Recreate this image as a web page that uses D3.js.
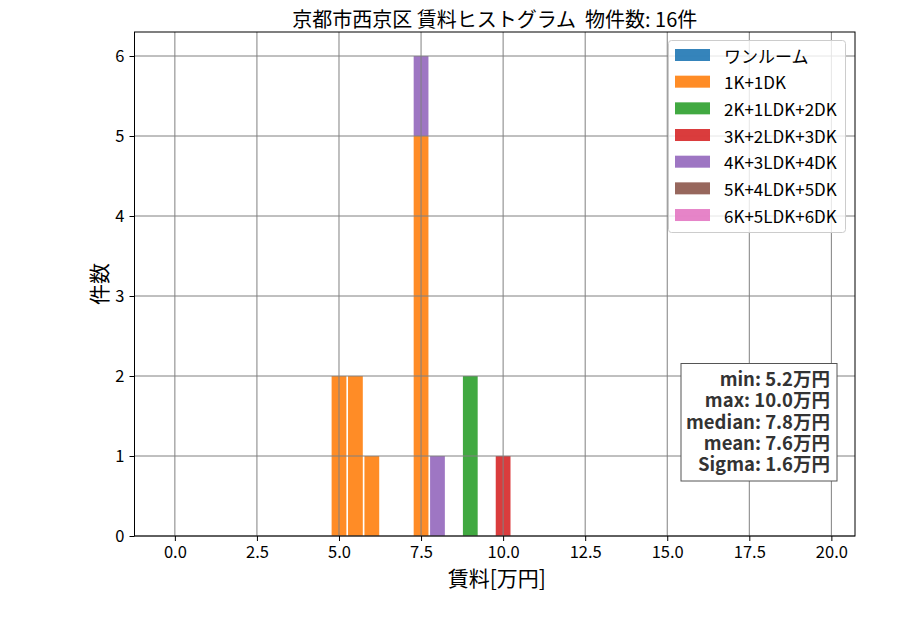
<!DOCTYPE html>
<html>
<head>
<meta charset="utf-8">
<script src="https://d3js.org/d3.v7.min.js"></script>
<style>
  body { margin: 0; background: #ffffff; }
  text { font-family: "Noto Sans CJK JP", "Noto Sans", sans-serif; fill: #000000; white-space: pre; }
  .grid line { stroke: #808080; stroke-width: 1px; }
  .axis path, .axis line { stroke: #000000; }
  .axis text { font-size: 16.5px; }
  text.stats { font-size: 18.5px; font-weight: 700; fill: #333333; }
</style>
</head>
<body>
<div id="chart"></div>
<script>
  // histogram data (bin centres in 万円, width 0.5)
  const binCenters = [5.0, 5.5, 6.0, 7.5, 8.0, 9.0, 10.0];
  const categories = ["ワンルーム", "1K+1DK", "2K+1LDK+2DK", "3K+2LDK+3DK", "4K+3LDK+4DK", "5K+4LDK+5DK", "6K+5LDK+6DK"];
  const counts = [
    [0, 0, 0, 0, 0, 0, 0],
    [2, 2, 1, 5, 0, 0, 0],
    [0, 0, 0, 0, 0, 2, 0],
    [0, 0, 0, 0, 0, 0, 1],
    [0, 0, 0, 1, 1, 0, 0],
    [0, 0, 0, 0, 0, 0, 0],
    [0, 0, 0, 0, 0, 0, 0]
  ];
  const xTicks = [0, 2.5, 5, 7.5, 10, 12.5, 15, 17.5, 20];
  const yTicks = [0, 1, 2, 3, 4, 5, 6];
  const statLines = ["min: 5.2万円", "max: 10.0万円", "median: 7.8万円", "mean: 7.6万円", "Sigma: 1.6万円"];
  const titleText = "京都市西京区 賃料ヒストグラム  物件数: 16件";

  const colors = ["#1f77b4", "#ff7f0e", "#2ca02c", "#d62728", "#9467bd", "#8c564b", "#e377c2"];
  const binWidth = 0.5, rwidth = 0.9;

  const W = 900, H = 630;
  const L = 134.5, R = 855, T = 32, B = 536;

  const svg = d3.select("#chart").append("svg")
    .attr("width", W).attr("height", H);

  const x = d3.scaleLinear().domain([-1.23, 20.72]).range([L, R]);
  const y = d3.scaleLinear().domain([0, 6.3]).range([B, T]);

  // stacked bars
  const rows = binCenters.map((c, i) => {
    const r = { c: c };
    categories.forEach((k, j) => { r[k] = counts[j][i]; });
    return r;
  });
  const stacked = d3.stack().keys(categories)(rows);

  svg.append("g").selectAll("g")
    .data(stacked)
    .join("g")
      .attr("fill", (d, i) => colors[i])
      .attr("fill-opacity", 0.9)
    .selectAll("rect")
    .data(d => d.filter(s => s[1] > s[0]))
    .join("rect")
      .attr("x", d => x(d.data.c - binWidth * rwidth / 2))
      .attr("width", d => x(d.data.c + binWidth * rwidth / 2) - x(d.data.c - binWidth * rwidth / 2))
      .attr("y", d => y(d[1]))
      .attr("height", d => y(d[0]) - y(d[1]));

  // grid (drawn over the bars)
  const grid = svg.append("g").attr("class", "grid");
  grid.selectAll("line.v").data(xTicks).join("line")
    .attr("class", "v")
    .attr("x1", d => x(d)).attr("x2", d => x(d))
    .attr("y1", T).attr("y2", B);
  grid.selectAll("line.h").data(yTicks).join("line")
    .attr("class", "h")
    .attr("x1", L).attr("x2", R)
    .attr("y1", d => y(d)).attr("y2", d => y(d));

  // axes
  svg.append("g")
    .attr("class", "axis")
    .attr("transform", `translate(0,${B})`)
    .call(d3.axisBottom(x).tickValues(xTicks).tickFormat(d3.format(".1f")).tickSize(5).tickPadding(5).tickSizeOuter(0))
    .call(g => g.select(".domain").remove());
  svg.append("g")
    .attr("class", "axis")
    .attr("transform", `translate(${L},0)`)
    .call(d3.axisLeft(y).tickValues(yTicks).tickFormat(d3.format("d")).tickSize(5).tickPadding(5).tickSizeOuter(0))
    .call(g => g.select(".domain").remove());

  svg.append("rect")
    .attr("x", L).attr("y", T)
    .attr("width", R - L).attr("height", B - T)
    .attr("fill", "none").attr("stroke", "#000").attr("stroke-width", 1);

  // titles
  svg.append("text")
    .attr("x", (L + R) / 2).attr("y", 18)
    .attr("text-anchor", "middle")
    .attr("dominant-baseline", "central")
    .style("font-size", "20px")
    .text(titleText);
  svg.append("text")
    .attr("x", (L + R) / 2 + 2).attr("y", 577)
    .attr("text-anchor", "middle")
    .attr("dominant-baseline", "central")
    .style("font-size", "21px")
    .text("賃料[万円]");
  svg.append("text")
    .attr("transform", `translate(98,${(T + B) / 2}) rotate(-90)`)
    .attr("text-anchor", "middle")
    .attr("dominant-baseline", "central")
    .style("font-size", "21px")
    .text("件数");

  // legend
  const legend = svg.append("g");
  legend.append("rect")
    .attr("x", 668.5).attr("y", 40.5)
    .attr("width", 177).attr("height", 192)
    .attr("rx", 3)
    .attr("fill", "#ffffff").attr("fill-opacity", 0.8)
    .attr("stroke", "#cccccc");
  const item = legend.selectAll("g.item")
    .data(categories)
    .join("g")
      .attr("class", "item")
      .attr("transform", (d, i) => `translate(675,${55 + i * 26.67})`);
  item.append("rect")
    .attr("x", 0).attr("y", -6)
    .attr("width", 35).attr("height", 12)
    .attr("fill", (d, i) => colors[i]).attr("fill-opacity", 0.9);
  item.append("text")
    .attr("x", 49).attr("y", 0)
    .attr("dominant-baseline", "central")
    .style("font-size", "17px")
    .text(d => d);

  // stats box
  svg.append("rect")
    .attr("x", 681).attr("y", 363.5)
    .attr("width", 156).attr("height", 117.5)
    .attr("fill", "#ffffff")
    .attr("stroke", "#555555");
  svg.append("g").selectAll("text")
    .data(statLines)
    .join("text")
      .attr("class", "stats")
      .attr("x", 830).attr("y", (d, i) => 378 + i * 21.3)
      .attr("dominant-baseline", "central")
      .attr("text-anchor", "end")
      .text(d => d);
</script>
</body>
</html>
